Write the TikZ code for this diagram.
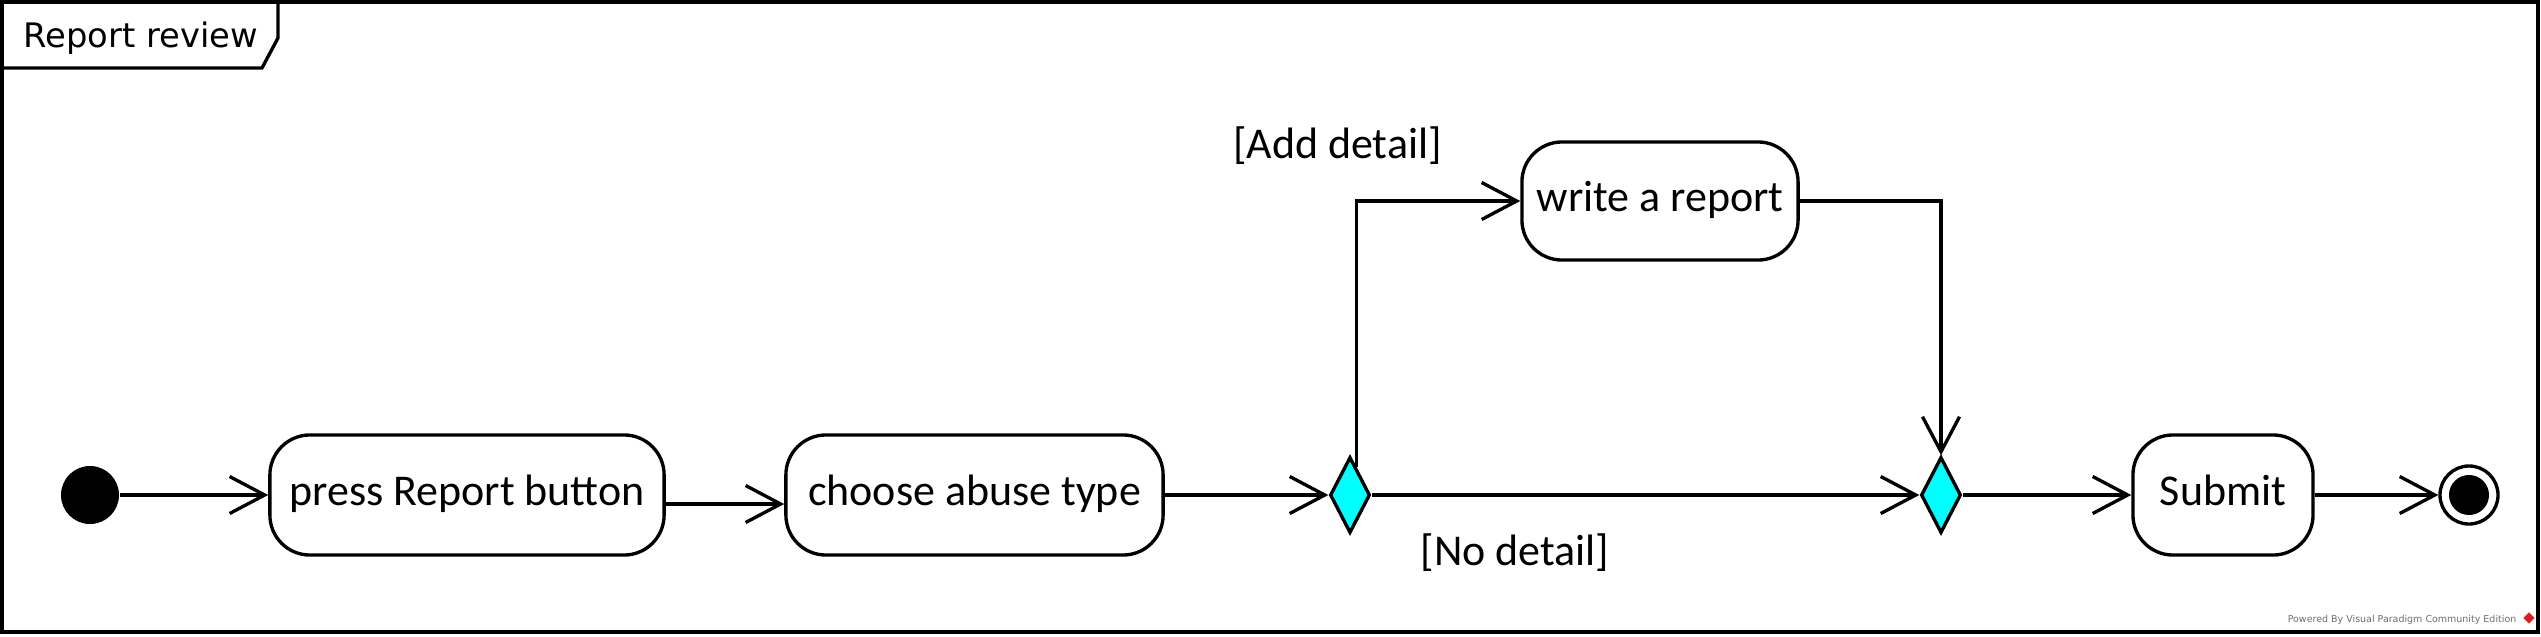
\documentclass[tikz,border=0pt]{standalone}
\usepackage{fontspec}
\setmainfont{Carlito}
\newfontfamily\titlefont{DejaVu Sans}
\usetikzlibrary{arrows.meta,shapes.geometric,calc}
\definecolor{decfill}{RGB}{0,255,255}
\definecolor{wmgray}{RGB}{110,110,110}
\definecolor{vpred}{RGB}{220,30,30}
\begin{document}
\begin{tikzpicture}[x=0.01cm,y=-0.01cm,
  lw/.style={line width=0.95pt},
  actbox/.style={draw,lw,rounded corners=0.4cm,minimum height=1.2cm,inner sep=0pt,
    font=\fontsize{12.5}{15}\selectfont,text height=0.3cm,text depth=0.1cm,fill=white},
  decision/.style={draw,lw,diamond,fill=decfill,minimum width=0.4cm,minimum height=0.76cm,inner sep=0pt},
  flow/.style={lw,-{Straight Barb[length=0.35cm,width=0.37cm]}},
  guard/.style={font=\fontsize{12.5}{15}\selectfont,inner sep=0pt,anchor=base}
]
\path[use as bounding box] (0,0) rectangle (2541,636);
\draw[lw] (2,2) rectangle (2538,632);
\draw[lw] (2,68) -- (262,68) -- (278,38) -- (278,2);
\node[font=\titlefont\fontsize{9.6}{11}\selectfont,anchor=base west,inner sep=0pt] (title) at (23,47) {Report review};

\node[circle,fill=black,minimum size=0.58cm,inner sep=0pt] (init) at (90,495) {};
\node[actbox,minimum width=3.94cm] (press) at (467,495) {press Report button};
\node[actbox,minimum width=3.77cm] (choose) at (974.5,495) {choose abuse type};
\node[decision] (d1) at (1350,495) {};
\node[actbox,minimum width=2.76cm,minimum height=1.18cm] (write) at (1660,201) {write a report};
\node[decision] (d2) at (1941,495) {};
\node[actbox,minimum width=1.8cm] (submit) at (2223,495) {Submit};
\node[circle,draw,lw,fill=white,minimum size=0.58cm,inner sep=0pt] (final) at (2469,495) {};
\node[circle,fill=black,minimum size=0.40cm,inner sep=0pt] (finaldot) at (final) {};

\draw[flow] (init) -- (press);
\draw[flow] ([yshift=-0.09cm]press.east) -- ([yshift=-0.09cm]choose.west);
\draw[flow] (choose) -- (d1);
\draw[flow] ($(d1.north)!0.3!(d1.east)$) |- (write.west);
\draw[flow] (write.east) -| (d2.north);
\draw[flow] (d1.east) -- (d2.west);
\draw[flow] (d2.east) -- (submit.west);
\draw[flow] (submit.east) -- (final.west);

\node[guard] (add) at (1337.5,158) {[Add detail]};
\node[guard] (nodet) at (1515,565) {[No detail]};

\node[font=\titlefont\fontsize{2.7}{3}\selectfont,text=wmgray,anchor=base east,inner sep=0pt] (wm) at (2517,622) {Powered By Visual Paradigm Community Edition};
\node[diamond,fill=vpred,minimum size=0.12cm,inner sep=0pt] (logo) at (2529,618) {};
\end{tikzpicture}
\end{document}
